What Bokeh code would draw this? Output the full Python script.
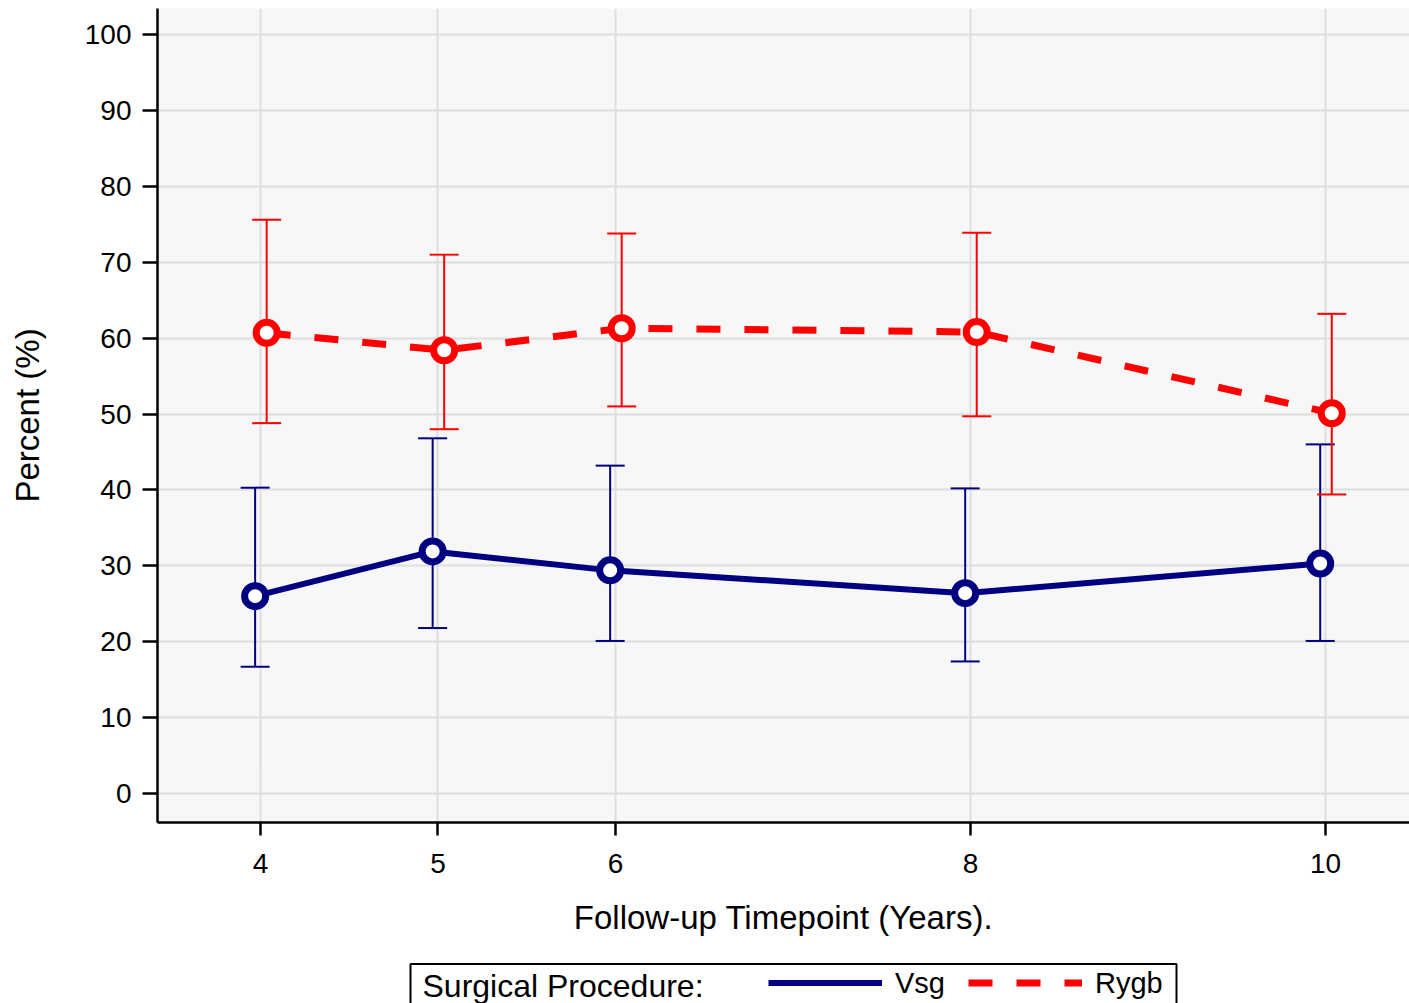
from bokeh.plotting import figure
from bokeh.layouts import column
from bokeh.models import (ColumnDataSource, Whisker, TeeHead, Legend, LegendItem,
                          Range1d, FixedTicker, BoxAnnotation, Label)
from bokeh.embed import file_html
from bokeh.resources import INLINE

# ---- data ----
timepoints = [4, 5, 6, 8, 10]
tick_labels = ["4", "5", "6", "8", "10"]
vsg_mean = [26.0, 31.9, 29.4, 26.4, 30.3]
vsg_lower = [16.7, 21.8, 20.1, 17.4, 20.1]
vsg_upper = [40.3, 46.8, 43.2, 40.2, 46.0]
rygb_mean = [60.7, 58.4, 61.3, 60.8, 50.1]
rygb_lower = [48.8, 48.0, 51.0, 49.7, 39.4]
rygb_upper = [75.6, 71.0, 73.8, 73.9, 63.2]
y_ticks = list(range(0, 101, 10))
series_names = ["Vsg", "Rygb"]
legend_title = "Surgical Procedure:"

VSG_COLOR = "#000080"
RYGB_COLOR = "#ff0000"
FONT = "Liberation Sans"
VSG_DODGE = -0.03
RYGB_DODGE = 0.035
VSG_STYLE = dict(line_color=VSG_COLOR, line_width=6)
RYGB_STYLE = dict(line_color=RYGB_COLOR, line_width=7, line_dash="24 24")

vsg_src = ColumnDataSource(dict(x=[t + VSG_DODGE for t in timepoints], y=vsg_mean,
                                lower=vsg_lower, upper=vsg_upper))
rygb_src = ColumnDataSource(dict(x=[t + RYGB_DODGE for t in timepoints], y=rygb_mean,
                                 lower=rygb_lower, upper=rygb_upper))

p = figure(width=1409, height=962, output_backend="svg", toolbar_location=None,
           x_range=Range1d(3.42, 10.473), y_range=Range1d(-3.82, 103.43),
           min_border_left=157, min_border_right=0, min_border_top=8,
           min_border_bottom=140)
p.background_fill_color = "#f7f7f7"
p.border_fill_color = "white"
p.outline_line_color = None

# grids
p.xgrid.ticker = FixedTicker(ticks=timepoints)
p.ygrid.ticker = FixedTicker(ticks=y_ticks)
for g in (p.xgrid, p.ygrid):
    g.grid_line_color = "#dedede"
    g.grid_line_width = 2

# axes
p.xaxis.ticker = FixedTicker(ticks=timepoints)
p.xaxis.major_label_overrides = {t: l for t, l in zip(timepoints, tick_labels)}
p.yaxis.ticker = FixedTicker(ticks=y_ticks)
for ax in (p.xaxis, p.yaxis):
    ax.axis_line_color = "black"
    ax.axis_line_width = 2.5
    ax.major_tick_line_color = "black"
    ax.major_tick_line_width = 2.5
    ax.major_tick_in = 0
    ax.minor_tick_line_color = None
    ax.major_label_text_font = FONT
    ax.major_label_text_font_size = "28px"
    ax.major_label_text_color = "black"
    ax.axis_label_text_font = FONT
    ax.axis_label_text_font_size = "33px"
    ax.axis_label_text_font_style = "normal"
    ax.axis_label_text_color = "black"
p.xaxis.major_tick_out = 13
p.xaxis.major_label_standoff = 18
p.xaxis.axis_label = "Follow-up Timepoint (Years)."
p.xaxis.axis_label_standoff = 23
p.yaxis.major_tick_out = 15
p.yaxis.major_label_standoff = 11
p.yaxis.axis_label = "Percent (%)"
p.yaxis.axis_label_standoff = 36

# error bars
for src, col in ((vsg_src, VSG_COLOR), (rygb_src, RYGB_COLOR)):
    w = Whisker(source=src, base="x", upper="upper", lower="lower", dimension="height",
                line_color=col, line_width=2, level="underlay",
                upper_head=TeeHead(size=29, line_color=col, line_width=2),
                lower_head=TeeHead(size=29, line_color=col, line_width=2))
    p.add_layout(w)

# lines and markers
p.line("x", "y", source=vsg_src, **VSG_STYLE)
p.scatter("x", "y", source=vsg_src, size=21, fill_color="white",
          line_color=VSG_COLOR, line_width=7)
p.line("x", "y", source=rygb_src, **RYGB_STYLE)
p.scatter("x", "y", source=rygb_src, size=21, fill_color="white",
          line_color=RYGB_COLOR, line_width=7)

# ---- legend strip below the chart (helper figure, x mapped to page pixels) ----
lf = figure(width=1409, height=41, output_backend="svg", toolbar_location=None,
            x_range=Range1d(157, 1409), y_range=Range1d(41, 0),
            x_axis_type=None, y_axis_type=None,
            min_border_left=157, min_border_right=0, min_border_top=0,
            min_border_bottom=0)
lf.grid.visible = False
lf.outline_line_color = None
lf.background_fill_color = "white"
lf.border_fill_color = "white"

lf.add_layout(BoxAnnotation(left=410, right=1176, top=1.5, bottom=80,
                            fill_alpha=0, fill_color=None,
                            line_color="black", line_width=2, line_alpha=1))
lf.add_layout(Label(x=422, y=23, text=legend_title, text_baseline="middle",
                    text_align="left", text_font=FONT, text_font_size="32px",
                    text_color="black"))

# hidden key renderers (kept off-screen) that only supply the legend swatches
vsg_key = lf.line(x=[157, 158], y=[-100, -100], **VSG_STYLE)
rygb_key = lf.line(x=[157, 158], y=[-100, -100], **RYGB_STYLE)
legend = Legend(items=[LegendItem(label=series_names[0], renderers=[vsg_key]),
                       LegendItem(label=series_names[1], renderers=[rygb_key])],
                orientation="horizontal", location="center_left",
                glyph_width=114, glyph_height=20, label_standoff=13, spacing=23,
                padding=0, margin=768 - 157,
                border_line_color=None, background_fill_alpha=0,
                label_text_font=FONT, label_text_font_size="29px",
                label_text_color="black")
lf.add_layout(legend, "center")

layout = column(p, lf, spacing=0)
open("out.html", "w").write(file_html(layout, INLINE))
